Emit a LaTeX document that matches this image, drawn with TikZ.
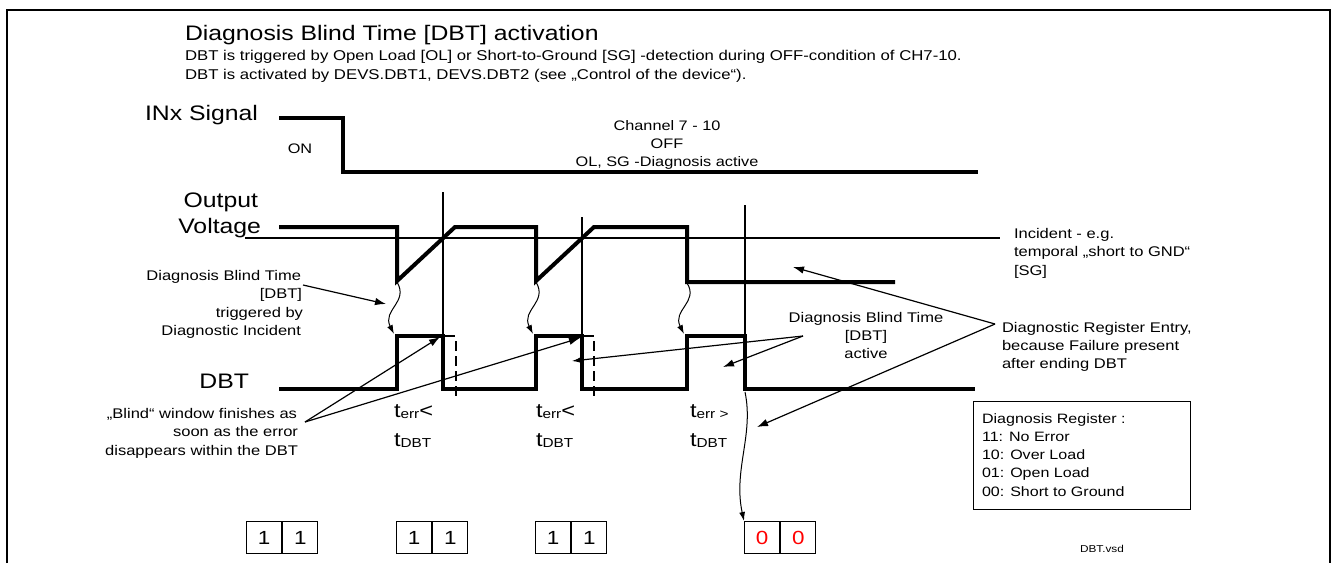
\documentclass[tikz,border=0pt]{standalone}
\usepackage{fontspec}
\setmainfont{Liberation Sans}[FakeStretch=1.18]
\usetikzlibrary{arrows.meta}
\newcommand{\fs}[1]{\fontsize{#1}{#1}\selectfont}
\newcommand{\sub}[1]{\raisebox{-1pt}{\fs{13}#1}}
\begin{document}
\begin{tikzpicture}[x=1pt,y=-1pt,
  sig/.style={line width=4pt,line join=miter,line cap=butt},
  thinl/.style={line width=1.2pt},
  arr/.style={line width=1.2pt,-{Latex[length=11pt,width=7.5pt]}},
  wav/.style={line width=1pt,-{Latex[length=9pt,width=6pt]}},
  txt/.style={inner sep=0pt,outer sep=0pt},
  lbl/.style={txt,font=\fs{21}},
  ann/.style={txt,font=\fs{14}},
  med/.style={txt,font=\fs{13.8}},
  cell/.style={draw,line width=1.2pt,minimum width=35pt,minimum height=32pt,inner sep=0pt,font=\fs{19},anchor=north west},
  tl/.style={txt,anchor=base west,font=\fs{20}}
]
\useasboundingbox (0,0) rectangle (1332,563);
\draw[line width=1.6pt] (7,563) -- (7,10) -- (1330,10) -- (1330,563);

% title
\node[txt,anchor=base west,font=\fs{21}] (title) at (185,40) {Diagnosis Blind Time [DBT] activation};
\node[txt,anchor=base west,font=\fs{14.2}] (sub1) at (185,60.7) {DBT is triggered by Open Load [OL] or Short-to-Ground [SG] -detection during OFF-condition of CH7-10.};
\node[txt,anchor=base west,font=\fs{14.2}] (sub2) at (185,79) {DBT is activated by DEVS.DBT1, DEVS.DBT2 (see „Control of the device“).};

% signal labels
\node[lbl,anchor=base east] (inx) at (258,120) {INx Signal};
\node[lbl,anchor=base east] (outp) at (258,207) {Output};
\node[lbl,anchor=base east] (volt) at (261,233) {Voltage};
\node[lbl,anchor=base east] (dbtl) at (249,388) {DBT};

% INx signal
\draw[sig] (279,118) -- (343,118) -- (343,172) -- (978,172);
\node[med,anchor=base] (on) at (300,153) {ON};
\node[med,anchor=base] (ch1) at (667,130) {Channel 7 - 10};
\node[med,anchor=base] (ch2) at (667,148) {OFF};
\node[med,anchor=base] (ch3) at (667,166) {OL, SG -Diagnosis active};

% incident threshold line
\draw[thinl] (245,238) -- (1000,238);
\node[ann,anchor=base west] (inc1) at (1014,238) {Incident - e.g.};
\node[ann,anchor=base west] (inc2) at (1014,256.5) {temporal „short to GND“};
\node[ann,anchor=base west] (inc3) at (1014,275) {[SG]};

% vertical markers
\draw[thinl] (443,192) -- (443,336);
\draw[thinl] (582,217) -- (582,336);
\draw[thinl] (745,205) -- (745,336);

% output voltage
\draw[sig] (279,227) -- (397,227) -- (397,281) -- (455,227) -- (536,227) -- (536,281) -- (594,227) -- (687,227) -- (687,282) -- (895,282);

% DBT signal
\draw[sig] (279,389) -- (397,389) -- (397,336) -- (443,336) -- (443,389) -- (536,389) -- (536,336) -- (582,336) -- (582,389) -- (687,389) -- (687,336) -- (745,336) -- (745,389) -- (975,389);
\draw[line width=2.2pt] (443,336) -- (455,336);
\draw[line width=2.2pt] (582,336) -- (594,336);
\draw[line width=2.4pt,dash pattern=on 10pt off 5pt] (456,341) -- (456,396);
\draw[line width=2.4pt,dash pattern=on 10pt off 5pt] (594,341) -- (594,396);

% wavy trigger arrows
\coordinate (w1s) at (397,282); \coordinate (w1e) at (394,334);
\coordinate (w2s) at (536,282); \coordinate (w2e) at (533,334);
\coordinate (w3s) at (687,283); \coordinate (w3e) at (684,334);
\draw[wav] (w1s) .. controls (409,302) and (382,310) .. (w1e);
\draw[wav] (w2s) .. controls (548,302) and (521,310) .. (w2e);
\draw[wav] (w3s) .. controls (699,302) and (672,310) .. (w3e);

% left annotation
\node[ann,anchor=base east] (dt1) at (301,280) {Diagnosis Blind Time};
\node[ann,anchor=base east] (dt2) at (302,298.5) {[DBT]};
\node[ann,anchor=base east] (dt3) at (303,317) {triggered by};
\node[ann,anchor=base east] (dt4) at (301,335.5) {Diagnostic Incident};
\coordinate (a1s) at (303,285); \coordinate (a1e) at (386,304);
\draw[arr] (a1s) -- (a1e);

\node[ann,anchor=base east] (bl1) at (297,418) {„Blind“ window finishes as};
\node[ann,anchor=base east] (bl2) at (298,436.5) {soon as the error};
\node[ann,anchor=base east] (bl3) at (298,455) {disappears within the DBT};
\coordinate (bs) at (305,422);
\coordinate (b1e) at (440,337);
\coordinate (b2e) at (580,338);
\draw[arr] (bs) -- (b1e);
\draw[arr] (bs) -- (b2e);

% t labels
\node[tl] (t1a) at (394,417) {t\sub{err}<};
\node[tl] (t1b) at (394,446) {t\sub{DBT}};
\node[tl] (t2a) at (536,417) {t\sub{err}<};
\node[tl] (t2b) at (536,446) {t\sub{DBT}};
\node[tl] (t3a) at (690,417) {t\sub{err >}};
\node[tl] (t3b) at (690,446) {t\sub{DBT}};

% middle annotation
\node[ann,anchor=base] (ac1) at (866,322) {Diagnosis Blind Time};
\node[ann,anchor=base] (ac2) at (866,340) {[DBT]};
\node[ann,anchor=base] (ac3) at (866,358) {active};
\coordinate (ms) at (803,336);
\coordinate (m1e) at (572,361);
\coordinate (m2e) at (723,367);
\draw[arr] (ms) -- (m1e);
\draw[arr] (ms) -- (m2e);

% right annotation
\node[ann,anchor=base west] (re1) at (1002,332) {Diagnostic Register Entry,};
\node[ann,anchor=base west] (re2) at (1002,350) {because Failure present};
\node[ann,anchor=base west] (re3) at (1002,368) {after ending DBT};
\coordinate (rs) at (995,324);
\coordinate (r1e) at (793,267);
\coordinate (r2e) at (757,427);
\draw[arr] (rs) -- (r1e);
\draw[arr] (rs) -- (r2e);

% register legend
\node[draw,line width=1.2pt,minimum width=217pt,minimum height=108pt,anchor=north west,inner sep=0pt] (legbox) at (973,401) {};
\node[ann,anchor=base west,font=\fs{13.6}] (lg1) at (982,423) {Diagnosis Register :};
\node[ann,anchor=base west,font=\fs{13.6}] (lg2) at (982,441.3) {11: No Error};
\node[ann,anchor=base west,font=\fs{13.6}] (lg3) at (982,459.6) {10: Over Load};
\node[ann,anchor=base west,font=\fs{13.6}] (lg4) at (982,477.9) {01: Open Load};
\node[ann,anchor=base west,font=\fs{13.6}] (lg5) at (982,496.2) {00: Short to Ground};

\node[txt,font=\fs{10},anchor=west] (vsd) at (1080,549) {DBT.vsd};

% register cells
\node[cell] (c1a) at (246,521) {1};
\node[cell] (c1b) at (c1a.north east) {1};
\node[cell] (c2a) at (396,521) {1};
\node[cell] (c2b) at (c2a.north east) {1};
\node[cell] (c3a) at (535,521) {1};
\node[cell] (c3b) at (c3a.north east) {1};
\node[cell,text=red] (c4a) at (744,521) {0};
\node[cell,text=red] (c4b) at (c4a.north east) {0};

% wavy arrow to register
\coordinate (w4s) at (745,392);
\draw[wav] (w4s) .. controls (754,435) and (733,470) .. (c4a.north west);
\end{tikzpicture}
\end{document}
